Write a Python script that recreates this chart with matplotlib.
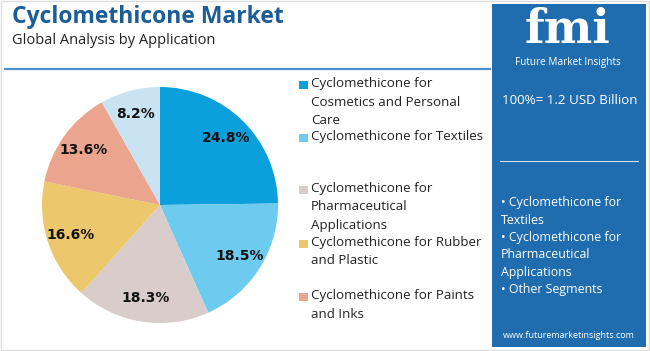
import matplotlib
matplotlib.use("Agg")
import matplotlib.pyplot as plt
from matplotlib.patches import Rectangle

# --- data -------------------------------------------------------------------
segments = [
    "Cyclomethicone for\nCosmetics and Personal\nCare",
    "Cyclomethicone for Textiles",
    "Cyclomethicone for\nPharmaceutical\nApplications",
    "Cyclomethicone for Rubber\nand Plastic",
    "Cyclomethicone for Paints\nand Inks",
    "Other Segments",
]
shares = [24.8, 18.5, 18.3, 16.6, 13.6, 8.2]
colors = ["#0ba0dc", "#6ecbf0", "#d8cdca", "#edc76c", "#eba48e", "#c9e3f2"]
legend_rows = [85, 138, 190, 244, 297]   # y of first line, pixels
total_text = "100%= 1.2 USD Billion"
key_points = ["\u2022 Cyclomethicone for\nTextiles",
              "\u2022 Cyclomethicone for\nPharmaceutical\nApplications",
              "\u2022 Other Segments"]

W, H = 650, 351
fig = plt.figure(figsize=(W / 100, H / 100), dpi=100)
fig.patch.set_facecolor("white")

# pixel-space canvas for texts / decorations
bg = fig.add_axes([0, 0, 1, 1])
bg.set_xlim(0, W)
bg.set_ylim(H, 0)
bg.axis("off")

bg.add_patch(Rectangle((1, 1), W - 2, H - 2, fill=False, ec="#dddddd", lw=1))
bg.text(12, 17, "Cyclomethicone Market", fontsize=16.5, fontweight="bold",
        color="#1b5d96", va="center", family="Open Sans")
bg.text(12, 40, "Global Analysis by Application", fontsize=10.5,
        color="#222222", va="center", family="Open Sans")
bg.plot([5, 490], [69, 69], color="#4a90c6", lw=1.6)

# pie
cx, cy, r = 160, 205, 118
pa = fig.add_axes([(cx - r) / W, (H - cy - r) / H, 2 * r / W, 2 * r / H])
pa.pie(shares, colors=colors, startangle=90, counterclock=False,
       autopct="%.1f%%", pctdistance=0.8,
       textprops=dict(fontsize=10, fontweight="bold", color="#111111"),
       wedgeprops=dict(linewidth=0))
pa.set_xlim(-1, 1)
pa.set_ylim(-1, 1)
pa.axis("off")

# legend
for lab, col, y in zip(segments[:5], colors[:5], legend_rows):
    bg.add_patch(Rectangle((299, y - 4.5), 8.5, 8.5, color=col, lw=0))
    bg.text(311, y - 8, lab, fontsize=9.6, color="#222222", va="top",
            linespacing=1.55, family="Open Sans")

# right panel
bg.add_patch(Rectangle((492, 4), 154, 343, color="#1f6cae", lw=0))
bg.text(568, 30, "fmi", fontsize=33, fontweight="bold", color="white",
        ha="center", va="center", family="DejaVu Serif")
bg.text(568, 62, "Future Market Insights", fontsize=7.2, color="white",
        ha="center", va="center", family="Open Sans")
bg.text(502, 101, total_text, fontsize=9.6, color="white", va="center",
        family="Open Sans")
bg.plot([500, 638], [161, 161], color="white", lw=0.8, alpha=0.8)
bg.text(501, 196, "\n".join(key_points), fontsize=8.9, color="white",
        va="top", linespacing=1.45, family="Open Sans")
bg.text(569, 335, "www.futuremarketinsights.com", fontsize=6.5,
        color="white", ha="center", va="center", family="Open Sans")

fig.savefig("out.png", dpi=100)
